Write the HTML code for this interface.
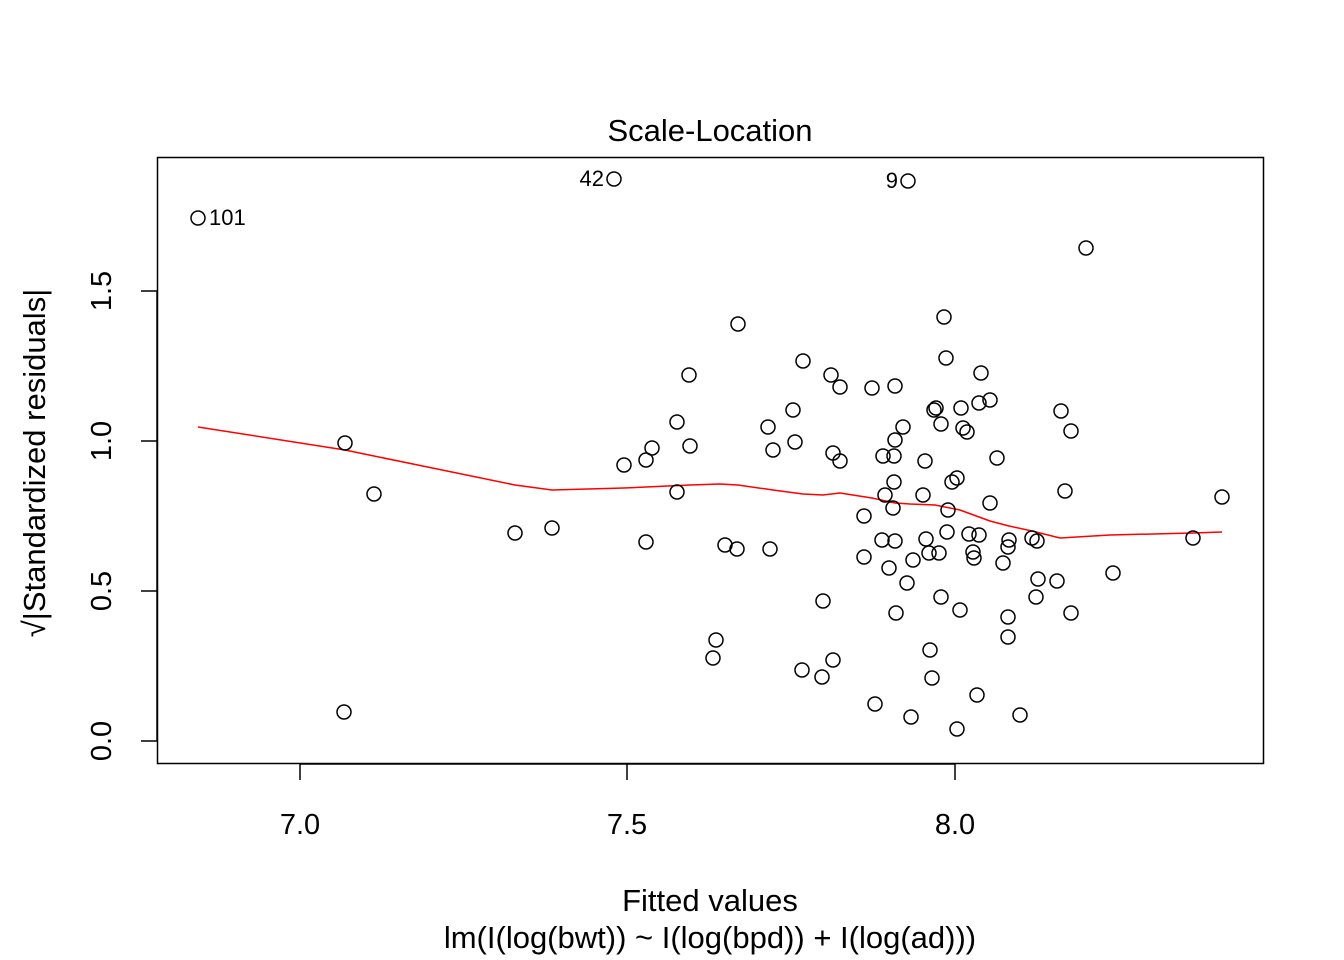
<!DOCTYPE html>
<html><head><meta charset="utf-8"><style>body{margin:0;background:#fff}svg{display:block}</style></head><body>
<svg width="1344" height="960" xmlns="http://www.w3.org/2000/svg" font-family="Liberation Sans, Arial, sans-serif">
<rect width="1344" height="960" fill="#fff"/>
<rect x="157.5" y="157.5" width="1106" height="606" fill="none" stroke="#000" stroke-width="1.5"/>
<text x="710" y="141" font-size="31" text-anchor="middle">Scale-Location</text>
<g stroke="#000" stroke-width="1.5">
<line x1="300" y1="764" x2="955" y2="764"/>
<line x1="300" y1="764" x2="300" y2="780"/><line x1="627" y1="764" x2="627" y2="780"/><line x1="955" y1="764" x2="955" y2="780"/>
<line x1="157" y1="291" x2="157" y2="741"/>
<line x1="141" y1="741" x2="157" y2="741"/><line x1="141" y1="591" x2="157" y2="591"/><line x1="141" y1="441" x2="157" y2="441"/><line x1="141" y1="291" x2="157" y2="291"/>
</g>
<g font-size="29" text-anchor="middle">
<text x="300" y="834">7.0</text><text x="627" y="834">7.5</text><text x="955" y="834">8.0</text>
<text transform="translate(111,741) rotate(-90)">0.0</text>
<text transform="translate(111,591) rotate(-90)">0.5</text>
<text transform="translate(111,441) rotate(-90)">1.0</text>
<text transform="translate(111,291) rotate(-90)">1.5</text>
</g>
<text x="710" y="911" font-size="31" text-anchor="middle">Fitted values</text>
<text x="710" y="948" font-size="31" text-anchor="middle">lm(I(log(bwt)) ~ I(log(bpd)) + I(log(ad)))</text>
<text transform="translate(45,463) rotate(-90)" font-size="31" text-anchor="middle">√|Standardized residuals|</text>
<polyline fill="none" stroke="#f00" stroke-width="1.5" points="198,427 345,450 374,456 515,485 552,490 624,488 690,485 720,484 738,485 773,490 803,494 823,495 840,493 872,498 895,503 910,504 935,505 960,510 979,517 990,521 1009,526 1032,531 1060,538 1110,535 1193,533 1222,532"/>
<g fill="none" stroke="#000" stroke-width="1.5">
<circle cx="198" cy="218" r="7"/><circle cx="614" cy="179" r="7"/><circle cx="908" cy="181" r="7"/><circle cx="1086" cy="248" r="7"/><circle cx="944" cy="317" r="7"/><circle cx="738" cy="324" r="7"/><circle cx="946" cy="358" r="7"/><circle cx="803" cy="361" r="7"/><circle cx="689" cy="375" r="7"/><circle cx="831" cy="375" r="7"/><circle cx="840" cy="387" r="7"/><circle cx="872" cy="388" r="7"/><circle cx="895" cy="386" r="7"/><circle cx="981" cy="373" r="7"/><circle cx="793" cy="410" r="7"/><circle cx="936" cy="408" r="7"/><circle cx="934" cy="410" r="7"/><circle cx="961" cy="408" r="7"/><circle cx="990" cy="400" r="7"/><circle cx="979" cy="403" r="7"/><circle cx="1061" cy="411" r="7"/><circle cx="677" cy="422" r="7"/><circle cx="768" cy="427" r="7"/><circle cx="903" cy="427" r="7"/><circle cx="941" cy="424" r="7"/><circle cx="963" cy="428" r="7"/><circle cx="967" cy="432" r="7"/><circle cx="1071" cy="431" r="7"/><circle cx="795" cy="442" r="7"/><circle cx="895" cy="440" r="7"/><circle cx="345" cy="443" r="7"/><circle cx="652" cy="448" r="7"/><circle cx="690" cy="446" r="7"/><circle cx="773" cy="450" r="7"/><circle cx="833" cy="453" r="7"/><circle cx="883" cy="456" r="7"/><circle cx="894" cy="456" r="7"/><circle cx="646" cy="460" r="7"/><circle cx="624" cy="465" r="7"/><circle cx="840" cy="461" r="7"/><circle cx="925" cy="461" r="7"/><circle cx="997" cy="458" r="7"/><circle cx="957" cy="478" r="7"/><circle cx="952" cy="482" r="7"/><circle cx="894" cy="482" r="7"/><circle cx="374" cy="494" r="7"/><circle cx="677" cy="492" r="7"/><circle cx="923" cy="495" r="7"/><circle cx="885" cy="495" r="7"/><circle cx="1065" cy="491" r="7"/><circle cx="1222" cy="497" r="7"/><circle cx="990" cy="503" r="7"/><circle cx="893" cy="508" r="7"/><circle cx="948" cy="510" r="7"/><circle cx="864" cy="516" r="7"/><circle cx="515" cy="533" r="7"/><circle cx="552" cy="528" r="7"/><circle cx="947" cy="532" r="7"/><circle cx="969" cy="534" r="7"/><circle cx="979" cy="535" r="7"/><circle cx="1032" cy="538" r="7"/><circle cx="1037" cy="541" r="7"/><circle cx="1193" cy="538" r="7"/><circle cx="646" cy="542" r="7"/><circle cx="882" cy="540" r="7"/><circle cx="895" cy="541" r="7"/><circle cx="926" cy="539" r="7"/><circle cx="725" cy="545" r="7"/><circle cx="737" cy="549" r="7"/><circle cx="770" cy="549" r="7"/><circle cx="1009" cy="540" r="7"/><circle cx="1008" cy="547" r="7"/><circle cx="939" cy="553" r="7"/><circle cx="929" cy="553" r="7"/><circle cx="973" cy="552" r="7"/><circle cx="974" cy="558" r="7"/><circle cx="864" cy="557" r="7"/><circle cx="913" cy="560" r="7"/><circle cx="1003" cy="563" r="7"/><circle cx="889" cy="568" r="7"/><circle cx="1113" cy="573" r="7"/><circle cx="1038" cy="579" r="7"/><circle cx="1057" cy="581" r="7"/><circle cx="907" cy="583" r="7"/><circle cx="1036" cy="597" r="7"/><circle cx="941" cy="597" r="7"/><circle cx="823" cy="601" r="7"/><circle cx="960" cy="610" r="7"/><circle cx="896" cy="613" r="7"/><circle cx="1071" cy="613" r="7"/><circle cx="1008" cy="617" r="7"/><circle cx="716" cy="640" r="7"/><circle cx="1008" cy="637" r="7"/><circle cx="930" cy="650" r="7"/><circle cx="713" cy="658" r="7"/><circle cx="833" cy="660" r="7"/><circle cx="802" cy="670" r="7"/><circle cx="822" cy="677" r="7"/><circle cx="932" cy="678" r="7"/><circle cx="977" cy="695" r="7"/><circle cx="875" cy="704" r="7"/><circle cx="344" cy="712" r="7"/><circle cx="911" cy="717" r="7"/><circle cx="1020" cy="715" r="7"/><circle cx="957" cy="729" r="7"/>
</g>
<g font-size="22">
<text x="209" y="225">101</text>
<text x="604" y="186" text-anchor="end">42</text>
<text x="898" y="188" text-anchor="end">9</text>
</g>
</svg>
</body></html>
